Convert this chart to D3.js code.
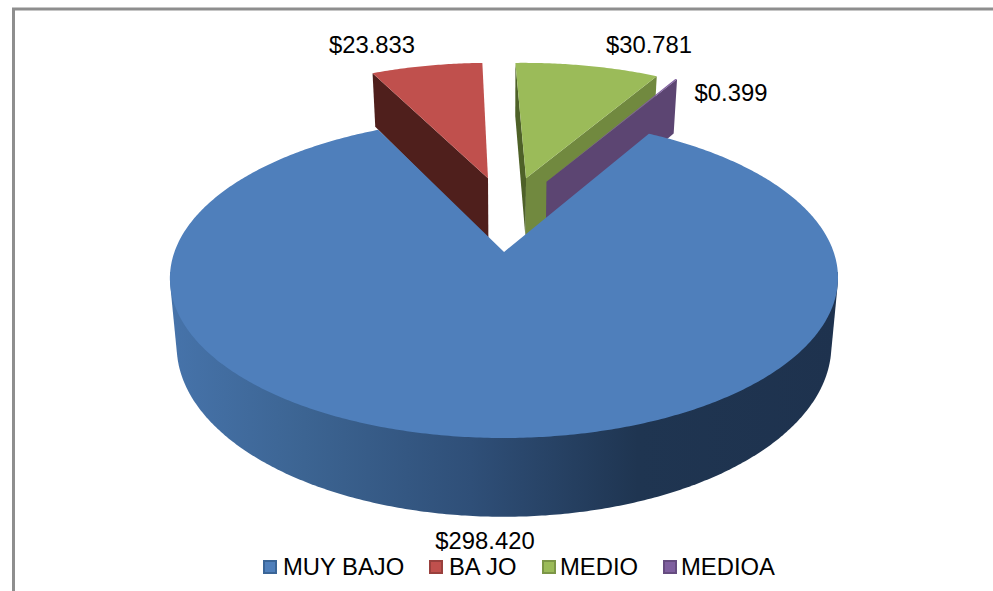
<!DOCTYPE html>
<html>
<head>
<meta charset="utf-8">
<script src="https://cdn.jsdelivr.net/npm/d3@7"></script>
<style>
  html, body { margin: 0; padding: 0; background: #fff; }
  svg { display: block; }
  text { font-family: "Liberation Sans", Arial, sans-serif; fill: #000; }
</style>
</head>
<body>
<div id="chart"></div>
<script>
var categories = ['MUY BAJO', 'BA JO', 'MEDIO', 'MEDIOA'];
var values = [298.420, 23.833, 30.781, 0.399];
var colors = ['#4f7fbb', '#c0504d', '#9bbb59', '#7f5f9f'];
var strokes = ['#3a6597', '#99403d', '#7c9647', '#664c80'];
var wallNear = [null, '#4f1f1c', '#71893f', '#5c4572'];   // radial wall facing us
var wallFar = [null, null, '#4e6128', null];              // sliver on the far radial wall

var width = 993, height = 591;

// pie plane -> screen: perspective fitted to the picture
var cx = 507, cy = 252;
var A = 329.6, B = 155.8, k = 0.1625;
var explode = 0.26;
var depth = 66, bottomScale = 0.98;

var svg = d3.select('#chart').append('svg')
    .attr('width', width)
    .attr('height', height);

function project(u, v, low) {
    var w = 1 + k * v;
    var x = A * u / w;
    var y = cy - B * v / w;
    if (low) {
        x = x * bottomScale;
        y = y + depth / w;
    }
    return [cx + x, y];
}

var pie = d3.pie()
    .sort(null)
    .startAngle(30 * Math.PI / 180)
    .endAngle((360 + 30) * Math.PI / 180);

var arcs = pie(values).map(function (d, i) {
    var mid = (d.startAngle + d.endAngle) / 2;
    // blue apex is the origin of the plane, everything else is moved off it
    var o = [explode * Math.sin(mid), explode * Math.cos(mid) + explode];
    return { i: i, start: d.startAngle, end: d.endAngle, ou: o[0], ov: o[1] };
});

function rimPoint(a, ang, low) {
    return project(a.ou + Math.sin(ang), a.ov + Math.cos(ang), low);
}

function rim(a, low) {
    var n = Math.max(2, Math.ceil((a.end - a.start) / 0.01));
    return d3.range(n + 1).map(function (j) {
        return rimPoint(a, a.start + (a.end - a.start) * j / n, low);
    });
}

function apex(a, low) {
    return project(a.ou, a.ov, low);
}

var line = d3.line();

// gradient along the blue wall
var defs = svg.append('defs');
var grad = defs.append('linearGradient')
    .attr('id', 'wallGrad')
    .attr('gradientUnits', 'userSpaceOnUse')
    .attr('x1', 171).attr('x2', 838).attr('y1', 0).attr('y2', 0);
var gradStops = [[0, '#4673aa'], [0.2, '#3c6492'], [0.45, '#2f4f78'], [0.7, '#1f3551'], [1, '#1e324e']];
grad.selectAll('stop').data(gradStops).enter().append('stop')
    .attr('offset', function (d) { return d[0]; })
    .attr('stop-color', function (d) { return d[1]; });

// frame, open on the right and at the bottom
svg.append('path')
    .attr('d', 'M13.5,591V9H993')
    .attr('fill', 'none')
    .attr('stroke', '#8e8e8e')
    .attr('stroke-width', 3);

function radialWall(a, ang, fill) {
    var pts = [apex(a), rimPoint(a, ang), rimPoint(a, ang, true), apex(a, true)];
    svg.append('path').attr('d', line(pts) + 'Z').attr('fill', fill);
}

// back slices first, red, green, purple, then the big one on top
[1, 2, 3].forEach(function (i) {
    var a = arcs[i];
    if (wallFar[i]) radialWall(a, a.start, wallFar[i]);
    var nearAng = i === 1 ? a.start : a.end;
    radialWall(a, nearAng, wallNear[i]);
    svg.append('path')
        .attr('d', line([apex(a)].concat(rim(a))) + 'Z')
        .attr('fill', colors[i]);
});

// outer wall of the big slice: hull of the front part of both rims,
// its chord stays below the apex so the notch is left alone
var big = arcs[0];
var front = { ou: big.ou, ov: big.ov, start: Math.PI * 0.54, end: Math.PI * 1.46 };
svg.append('path')
    .attr('d', line(d3.polygonHull(rim(front).concat(rim(front, true)))) + 'Z')
    .attr('fill', 'url(#wallGrad)');
svg.append('path')
    .attr('d', line([apex(big)].concat(rim(big))) + 'Z')
    .attr('fill', colors[0]);

// data labels
var fmt = d3.format('.3f');
var labelPos = [[485, 549], [372, 53], [649, 53], [731, 101]];
svg.selectAll('.value').data(values).enter().append('text')
    .attr('class', 'value')
    .attr('x', function (d, i) { return labelPos[i][0]; })
    .attr('y', function (d, i) { return labelPos[i][1]; })
    .attr('text-anchor', 'middle')
    .attr('font-size', 23.8)
    .text(function (d) { return '$' + fmt(d); });

// legend
var swatchX = [263, 429, 542, 663];
var legendTextX = [283, 449, 560, 681];
var legend = svg.selectAll('.legend').data(categories).enter().append('g')
    .attr('class', 'legend');
legend.append('rect')
    .attr('x', function (d, i) { return swatchX[i] + 1; })
    .attr('y', 561)
    .attr('width', 12).attr('height', 12)
    .attr('fill', function (d, i) { return colors[i]; })
    .attr('stroke', function (d, i) { return strokes[i]; })
    .attr('stroke-width', 2);
legend.append('text')
    .attr('x', function (d, i) { return legendTextX[i]; })
    .attr('y', 575)
    .attr('font-size', 23.8)
    .text(function (d) { return d; });
</script>
</body>
</html>
